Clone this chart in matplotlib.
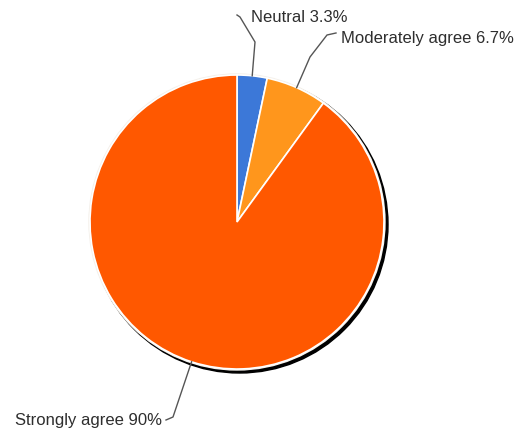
import numpy as np
import matplotlib.pyplot as plt
from matplotlib.patches import Circle

labels = ['Neutral', 'Moderately agree', 'Strongly agree']
shares = [3.3, 6.7, 90]
pct_text = ['3.3%', '6.7%', '90%']
colors = ['#3c78d8', '#ff961c', '#ff5800']

W, H = 515, 432
fig = plt.figure(figsize=(W / 100, H / 100), dpi=100)
ax = fig.add_axes([0, 0, 1, 1])

cx, cy, r = 237, H - 222, 147

# shadow ring
ax.add_patch(Circle((cx + 2.5, cy - 2.5), r + 1.5, color='black', zorder=1))
ax.add_patch(Circle((cx, cy), r + 1, color='#f4f0ea', zorder=1.5))

wedges, _ = ax.pie(shares, colors=colors, startangle=90, counterclock=False,
                   center=(cx, cy), radius=r,
                   wedgeprops=dict(edgecolor='white', linewidth=1.2, zorder=2),
                   frame=True)
ax.set_xlim(0, W)
ax.set_ylim(0, H)
ax.set_aspect('equal')
ax.axis('off')

# leader elbows and label anchors (pixel coords, y from top)
elbows = [[(255, 42), (240, 17), (237, 15)],
          [(310, 57), (327, 35), (336, 33)],
          [(173, 417), (166, 420)]]
anchors = [((251, 18), 'left'), ((341, 39), 'left'), ((162, 420), 'right')]

for w, lab, p, el, (pos, ha) in zip(wedges, labels, pct_text, elbows, anchors):
    ang = np.deg2rad((w.theta1 + w.theta2) / 2)
    x0 = cx + r * np.cos(ang)
    y0 = cy + r * np.sin(ang)
    xs = [x0] + [e[0] for e in el]
    ys = [y0] + [H - e[1] for e in el]
    ax.plot(xs, ys, color='#555555', lw=1, zorder=3)
    ax.text(pos[0], H - pos[1], lab + ' ' + p, ha=ha, va='center',
            fontsize=12, color='#2e2e2e', family='Liberation Sans')

fig.savefig('out.png', dpi=100)
